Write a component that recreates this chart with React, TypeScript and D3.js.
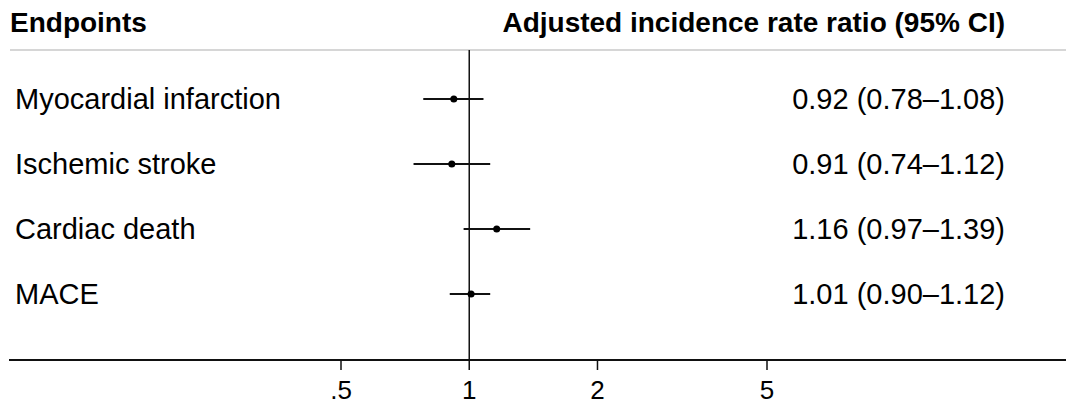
import React, { useRef, useEffect } from "react"
import * as d3 from "d3"

const endpoints = ["Myocardial infarction", "Ischemic stroke", "Cardiac death", "MACE"]
const irr = [0.92, 0.91, 1.16, 1.01]
const lower = [0.78, 0.74, 0.97, 0.9]
const upper = [1.08, 1.12, 1.39, 1.12]
const tickValues = [0.5, 1, 2, 5]
const tickLabels = [".5", "1", "2", "5"]

const width = 1066
const height = 409
const font = "'Liberation Sans', Arial, Helvetica, sans-serif"

function App() {
  const ref = useRef<SVGSVGElement>(null)

  useEffect(() => {
    const svg = d3.select(ref.current)
    svg.selectAll("*").remove()

    const x = d3.scaleLog().domain([0.5, 5]).range([341, 767])
    const y = d3.scalePoint().domain(endpoints).range([99, 294])
    const fmt = d3.format(".2f")

    const headTop = 50
    const axisY = 360

    // header
    svg.append("text")
      .attr("x", 10).attr("y", 32)
      .style("font", `bold 28px ${font}`)
      .text("Endpoints")
    svg.append("text")
      .attr("x", 1005).attr("y", 32)
      .attr("text-anchor", "end")
      .style("font", `bold 28px ${font}`)
      .text("Adjusted incidence rate ratio (95% CI)")
    svg.append("line")
      .attr("x1", 10).attr("x2", width)
      .attr("y1", headTop).attr("y2", headTop)
      .attr("stroke", "#c8c8c8").attr("stroke-width", 1.5)

    // reference line at 1
    svg.append("line")
      .attr("x1", x(1)).attr("x2", x(1))
      .attr("y1", headTop).attr("y2", axisY)
      .attr("stroke", "#111").attr("stroke-width", 1.5)

    const rows = svg.append("g").selectAll("g")
      .data(endpoints)
      .join("g")

    rows.append("text")
      .attr("x", 15).attr("y", d => y(d)! + 10)
      .style("font", `29px ${font}`)
      .text(d => d)

    rows.append("line")
      .attr("x1", (d, i) => x(lower[i])).attr("x2", (d, i) => x(upper[i]))
      .attr("y1", d => y(d)!).attr("y2", d => y(d)!)
      .attr("stroke", "#111").attr("stroke-width", 2)

    rows.append("circle")
      .attr("cx", (d, i) => x(irr[i])).attr("cy", d => y(d)!)
      .attr("r", 3.5).attr("fill", "#000")

    rows.append("text")
      .attr("x", 1005).attr("y", d => y(d)! + 10)
      .attr("text-anchor", "end")
      .style("font", `29px ${font}`)
      .text((d, i) => `${fmt(irr[i])} (${fmt(lower[i])}\u2013${fmt(upper[i])})`)

    // x axis
    svg.append("line")
      .attr("x1", 9).attr("x2", width)
      .attr("y1", axisY).attr("y2", axisY)
      .attr("stroke", "#111").attr("stroke-width", 2)

    const ticks = svg.append("g").selectAll("g")
      .data(tickValues)
      .join("g")
      .attr("transform", d => `translate(${x(d)},${axisY})`)
    ticks.append("line")
      .attr("y1", 0).attr("y2", 10)
      .attr("stroke", "#111").attr("stroke-width", 1.5)
    ticks.append("text")
      .attr("y", 39)
      .attr("text-anchor", "middle")
      .style("font", `26px ${font}`)
      .text((d, i) => tickLabels[i])
  }, [])

  return (
    <svg
      ref={ref}
      width={width}
      height={height}
      style={{ position: "absolute", left: 0, top: 0, background: "#fff" }}
    />
  )
}

export default App
